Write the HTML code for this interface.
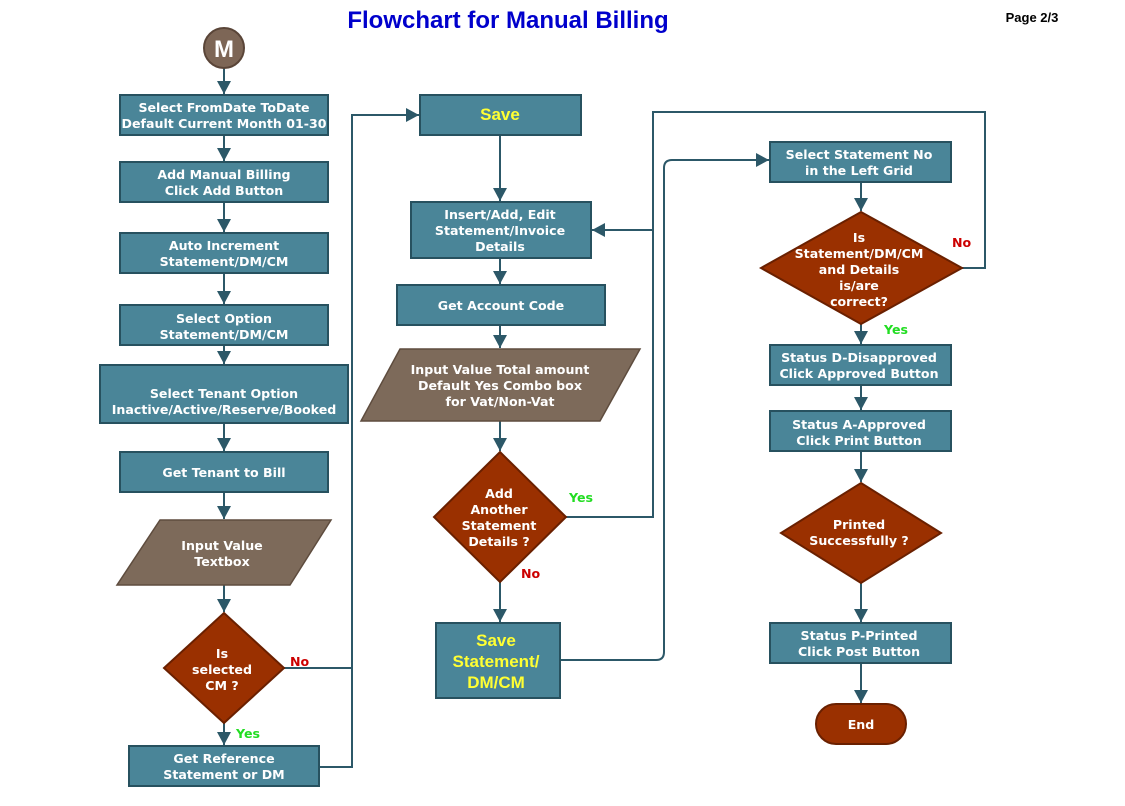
<!DOCTYPE html>
<html><head><meta charset="utf-8"><style>
html,body{margin:0;padding:0;background:#fff;}
svg{display:block;}
text{font-family:"DejaVu Sans","Liberation Sans",sans-serif;font-weight:bold;font-size:12.6px;fill:#fff;text-anchor:middle;}
.b{fill:#4a8598;stroke:#27515f;stroke-width:2;}
.d{fill:#9a3000;stroke:#6a2000;stroke-width:2;}
.p{fill:#7d6a5a;stroke:#5e4c3e;stroke-width:1.5;}
.l{fill:none;stroke:#2c5868;stroke-width:2;}
.y{fill:#22dd22;text-anchor:start;}
.n{fill:#cc0000;text-anchor:start;}
.s{font-family:"Liberation Sans",sans-serif;font-size:17px;fill:#ffff33;}
</style></head><body>
<svg width="1125" height="806" viewBox="0 0 1125 806">
<defs><marker id="a" markerWidth="14" markerHeight="14" refX="13" refY="7" orient="auto" markerUnits="userSpaceOnUse"><path d="M0,0 L13,7 L0,14 z" fill="#2c5868"/></marker></defs>
<text x="508" y="28" style="font-family:'Liberation Sans',sans-serif;font-size:24px;fill:#0000cc">Flowchart for Manual Billing</text>
<text x="1032" y="22" style="font-family:'Liberation Sans',sans-serif;font-size:13px;fill:#000">Page 2/3</text>

<path class="l" marker-end="url(#a)" d="M224,68 V94"/>
<path class="l" marker-end="url(#a)" d="M224,135 V161"/>
<path class="l" marker-end="url(#a)" d="M224,202 V232"/>
<path class="l" marker-end="url(#a)" d="M224,273 V304"/>
<path class="l" marker-end="url(#a)" d="M224,345 V364"/>
<path class="l" marker-end="url(#a)" d="M224,423 V451"/>
<path class="l" marker-end="url(#a)" d="M224,492 V519"/>
<path class="l" marker-end="url(#a)" d="M224,585 V612"/>
<path class="l" marker-end="url(#a)" d="M224,723 V745"/>
<path class="l" marker-end="url(#a)" d="M284,668 H352 V115 H419"/>
<path class="l" d="M319,767 H352 V668"/>
<path class="l" marker-end="url(#a)" d="M500,135 V201"/>
<path class="l" marker-end="url(#a)" d="M500,258 V284"/>
<path class="l" marker-end="url(#a)" d="M500,325 V348"/>
<path class="l" marker-end="url(#a)" d="M500,421 V451"/>
<path class="l" marker-end="url(#a)" d="M500,582 V622"/>
<path class="l" d="M566,517 H653 V112 H985 V268 H962"/>
<path class="l" marker-end="url(#a)" d="M653,230 H592"/>
<path class="l" marker-end="url(#a)" d="M560,660 H656 Q664,660 664,652 V168 Q664,160 672,160 H769"/>
<path class="l" marker-end="url(#a)" d="M861,182 V211"/>
<path class="l" marker-end="url(#a)" d="M861,324 V344"/>
<path class="l" marker-end="url(#a)" d="M861,385 V410"/>
<path class="l" marker-end="url(#a)" d="M861,451 V482"/>
<path class="l" marker-end="url(#a)" d="M861,583 V622"/>
<path class="l" marker-end="url(#a)" d="M861,663 V703"/>

<circle cx="224" cy="48" r="20" fill="#7d6656" stroke="#5a4538" stroke-width="2"/>
<text x="224" y="57" style="font-family:'Liberation Sans',sans-serif;font-size:24px">M</text>

<rect class="b" x="120" y="95" width="208" height="40"/>
<text x="224" y="112">Select FromDate ToDate</text><text x="224" y="128">Default Current Month 01-30</text>
<rect class="b" x="120" y="162" width="208" height="40"/>
<text x="224" y="179">Add Manual Billing</text><text x="224" y="195">Click Add Button</text>
<rect class="b" x="120" y="233" width="208" height="40"/>
<text x="224" y="250">Auto Increment</text><text x="224" y="266">Statement/DM/CM</text>
<rect class="b" x="120" y="305" width="208" height="40"/>
<text x="224" y="323">Select Option</text><text x="224" y="339">Statement/DM/CM</text>
<rect class="b" x="100" y="365" width="248" height="58"/>
<text x="224" y="398">Select Tenant Option</text><text x="224" y="414">Inactive/Active/Reserve/Booked</text>
<rect class="b" x="120" y="452" width="208" height="40"/>
<text x="224" y="477">Get Tenant to Bill</text>
<polygon class="p" points="160,520 331,520 290,585 117,585"/>
<text x="222" y="550">Input Value</text><text x="222" y="566">Textbox</text>
<polygon class="d" points="224,613 284,668 224,723 164,668"/>
<text x="222" y="658">Is</text><text x="222" y="674">selected</text><text x="222" y="690">CM ?</text>
<text class="n" x="290" y="666">No</text>
<text class="y" x="236" y="738">Yes</text>
<rect class="b" x="129" y="746" width="190" height="40"/>
<text x="224" y="763">Get Reference</text><text x="224" y="779">Statement or DM</text>

<rect class="b" x="420" y="95" width="161" height="40"/>
<text x="500" y="120" class="s">Save</text>
<rect class="b" x="411" y="202" width="180" height="56"/>
<text x="500" y="219">Insert/Add, Edit</text><text x="500" y="235">Statement/Invoice</text><text x="500" y="251">Details</text>
<rect class="b" x="397" y="285" width="208" height="40"/>
<text x="501" y="310">Get Account Code</text>
<polygon class="p" points="400,349 640,349 600,421 361,421"/>
<text x="500" y="374">Input Value Total amount</text><text x="500" y="390">Default Yes Combo box</text><text x="500" y="406">for Vat/Non-Vat</text>
<polygon class="d" points="500,452 566,517 500,582 434,517"/>
<text x="499" y="498">Add</text><text x="499" y="514">Another</text><text x="499" y="530">Statement</text><text x="499" y="546">Details ?</text>
<text class="y" x="569" y="502">Yes</text>
<text class="n" x="521" y="578">No</text>
<rect class="b" x="436" y="623" width="124" height="75"/>
<text x="496" y="646" class="s">Save</text><text x="496" y="667" class="s">Statement/</text><text x="496" y="688" class="s">DM/CM</text>

<rect class="b" x="770" y="142" width="181" height="40"/>
<text x="859" y="159">Select Statement No</text><text x="859" y="175">in the Left Grid</text>
<polygon class="d" points="861,212 962,268 861,324 761,268"/>
<text x="859" y="242">Is</text><text x="859" y="258">Statement/DM/CM</text><text x="859" y="274">and Details</text><text x="859" y="290">is/are</text><text x="859" y="306">correct?</text>
<text class="n" x="952" y="247">No</text>
<text class="y" x="884" y="334">Yes</text>
<rect class="b" x="770" y="345" width="181" height="40"/>
<text x="859" y="362">Status D-Disapproved</text><text x="859" y="378">Click Approved Button</text>
<rect class="b" x="770" y="411" width="181" height="40"/>
<text x="859" y="429">Status A-Approved</text><text x="859" y="445">Click Print Button</text>
<polygon class="d" points="861,483 941,533 861,583 781,533"/>
<text x="859" y="529">Printed</text><text x="859" y="545">Successfully ?</text>
<rect class="b" x="770" y="623" width="181" height="40"/>
<text x="859" y="640">Status P-Printed</text><text x="859" y="656">Click Post Button</text>
<rect x="816" y="704" width="90" height="40" rx="20" fill="#9a3000" stroke="#6a2000" stroke-width="2"/>
<text x="861" y="729">End</text>
</svg>
</body></html>
